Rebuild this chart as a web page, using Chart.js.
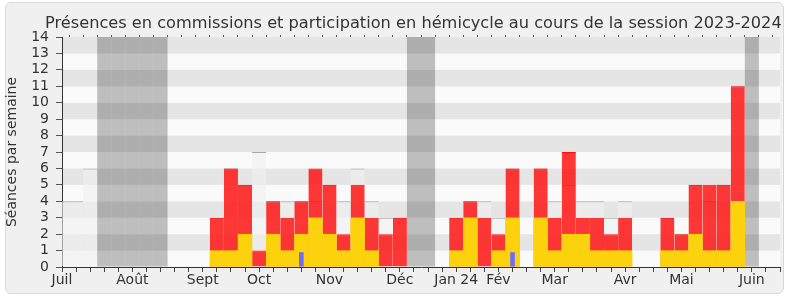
<!DOCTYPE html>
<html>
<head>
<meta charset="utf-8">
<script src="https://cdn.jsdelivr.net/npm/chart.js@4/dist/chart.umd.min.js"></script>
<style>
  html, body { margin: 0; padding: 0; background: #ffffff; }
  #frame { position: absolute; left: 5px; top: 2px; width: 777px; height: 290px;
           background: #f0f0f0; border: 1px solid #d9d9d9; border-radius: 6px; }
  #c { position: absolute; left: 0; top: 0; }
</style>
</head>
<body>
<div id="frame"></div>
<canvas id="c" width="790" height="300"></canvas>
<script>
// ---- data (one entry per week, week index 0 = first week of July 2023) ----
const weekIndex = [0,1,2,3,4,5,6,7,8,9,10,11,12,13,14,15,16,17,18,19,20,21,22,23,24,25,
                   26,27,28,29,30,31,32,33,34,35,36,37,38,39,40,41,42,43,44,45,46,47,48,49,50,51];

// month tick labels and the week tick they sit on
const monthLabels = ['Juil', 'Août', 'Sept', 'Oct', 'Nov', 'Déc', 'Jan 24', 'Fév', 'Mar', 'Avr', 'Mai', 'Juin'];
const monthWeeks  = [0, 5, 10, 14, 19, 24, 28, 31, 35, 40, 44, 49];

// total weekly presences (commissions + hémicycle)
const presencesTotal = [0,0,0,0,0,0,0,0,0,0,0,3,6,5,1,4,3,4,6,5,2,5,3,2,3,0,
                        0,0,3,4,3,2,6,0,6,3,7,3,3,2,3,0,0,3,2,5,5,5,11,0,0,0];
// participation en hémicycle
const hemicycle = [0,0,0,0,0,0,0,0,0,0,0,1,1,2,0,2,1,2,3,2,1,3,1,0,0,0,
                   0,0,1,3,0,1,3,0,3,1,2,2,1,1,1,0,0,1,1,2,1,1,4,0,0,0];
// questions orales
const questions = [0,0,0,0,0,0,0,0,0,0,0,0,0,0,0,0,0,0.9,0,0,0,0,0,0,0,0,
                   0,0,0,0,0,0,0.9,0,0,0,0,0,0,0,0,0,0,0,0,0,0,0,0,0,0,0];
// médiane des présences des députés
const mediane = [4,4,6,0,0,0,0,0,0,0,0,3,6,5,7,4,4,4,4,5,4,6,4,3,3,0,
                 0,0,3,4,4,3,6,0,6,4,5,4,4,3,4,0,0,3,2,5,4,5,11,0,0,0];
// vacances parlementaires (full-height band)
const vacances = [0,0,0,14,14,14,14,14,0,0,0,0,0,0,0,0,0,0,0,0,0,0,0,0,0,14,
                  14,0,0,0,0,0,0,0,0,0,0,0,0,0,0,0,0,0,0,0,0,0,0,14,0,0];

const TITLE = 'Présences en commissions et participation en hémicycle au cours de la session 2023-2024';
const FONT = 'DejaVu Sans';

const nz = a => a.map(v => (v ? v : null));

const stripes = {
  id: 'stripes',
  beforeDraw(chart) {
    const { ctx, chartArea: a, scales: { y } } = chart;
    ctx.save();
    for (let v = 0; v < 14; v++) {
      const top = y.getPixelForValue(v + 1), bot = y.getPixelForValue(v);
      ctx.fillStyle = (v % 2 === 1) ? '#e5e5e5' : '#fafafa';
      ctx.fillRect(a.left, top, a.right - a.left, bot - top);
    }
    ctx.restore();
  }
};

const titlePlugin = {
  id: 'ttl',
  afterDraw(chart) {
    const ctx = chart.ctx;
    ctx.save();
    ctx.font = '16.2px "' + FONT + '"';
    ctx.fillStyle = '#333333';
    ctx.textAlign = 'left';
    ctx.textBaseline = 'alphabetic';
    ctx.fillText(TITLE, 45, 27.5);
    ctx.restore();
  }
};

new Chart(document.getElementById('c'), {
  type: 'bar',
  data: {
    labels: weekIndex,
    datasets: [
      { label: 'Questions orales', data: nz(questions), backgroundColor: '#6b6bff',
        barPercentage: 0.33, categoryPercentage: 1 },
      { label: 'Hémicycle', data: nz(hemicycle), backgroundColor: '#fcd20d',
        barPercentage: 1, categoryPercentage: 1, inflateAmount: 0.2 },
      { label: 'Commissions', data: nz(presencesTotal), backgroundColor: 'rgba(255,0,0,0.78)',
        borderColor: 'rgba(255,0,0,0.95)', borderWidth: { top: 1, left: 0, right: 0, bottom: 0 },
        borderSkipped: false, barPercentage: 1, categoryPercentage: 1, inflateAmount: 0 },
      { label: 'Médiane', data: nz(mediane), backgroundColor: 'rgba(240,240,240,0.6)',
        borderColor: '#a8a8a8', borderWidth: { top: 1, left: 0, right: 0, bottom: 0 },
        borderSkipped: false, barPercentage: 1, categoryPercentage: 1, inflateAmount: 0 },
      { label: 'Vacances', data: nz(vacances), backgroundColor: 'rgba(0,0,0,0.24)',
        barPercentage: 1, categoryPercentage: 1, inflateAmount: 0 }
    ]
  },
  options: {
    responsive: false,
    animation: false,
    events: [],
    grouped: false,
    layout: { padding: { left: 4, right: 10, top: 35, bottom: 0 } },
    plugins: { legend: { display: false }, tooltip: { enabled: false }, title: { display: false } },
    scales: {
      x: {
        type: 'linear', min: 0, max: 51, offset: false,
        grid: { drawOnChartArea: false, drawTicks: true, tickLength: 5, color: '#444444', offset: false },
        border: { display: true, color: '#333333', width: 1 },
        ticks: {
          stepSize: 1, autoSkip: false, maxRotation: 0, minRotation: 0, padding: 0,
          color: '#333333', font: { family: FONT, size: 14 },
          callback: (v) => { const i = monthWeeks.indexOf(v); return i >= 0 ? monthLabels[i] : ''; }
        },
        afterFit: (s) => { s.height = 33; }
      },
      x2: {
        type: 'linear', position: 'top', min: 0, max: 51, offset: false,
        grid: { drawOnChartArea: false, drawTicks: true, tickLength: 2, color: '#555555' },
        border: { display: false },
        ticks: { display: false, stepSize: 1, autoSkip: false },
        afterFit: (s) => { s.height = 2; }
      },
      y: {
        min: 0, max: 14,
        grid: { drawOnChartArea: false, drawTicks: true, tickLength: 6, color: '#555555' },
        border: { display: true, color: '#333333', width: 1 },
        ticks: { stepSize: 1, autoSkip: false, padding: 7, color: '#333333', font: { family: FONT, size: 14 } },
        title: { display: true, text: 'Séances par semaine', color: '#333333',
                 font: { family: FONT, size: 14 }, padding: 0 },
        afterFit: (s) => { s.width = 58; }
      }
    }
  },
  plugins: [stripes, titlePlugin]
});
</script>
</body>
</html>
